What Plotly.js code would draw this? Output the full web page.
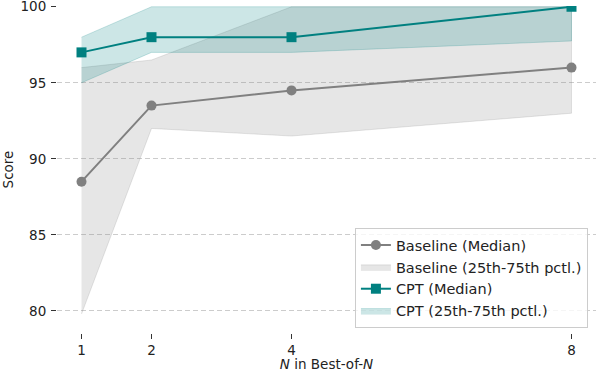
<!DOCTYPE html>
<html>
<head>
<meta charset="utf-8">
<script src="https://cdn.plot.ly/plotly-3.0.1.min.js"></script>
<style>
  html, body { margin: 0; padding: 0; background: #fff; }
  #chart { width: 596px; height: 372px; }
</style>
</head>
<body>
<div id="chart"></div>
<script>
var nValues = [1, 2, 4, 8];

var baselineMedian = [88.5, 93.5, 94.5, 96];
var baselineLow = [79.8, 92, 91.5, 93];
var baselineHigh = [96, 96.5, 100, 100];

var cptMedian = [97, 98, 98, 100];
var cptLow = [95, 97, 97, 97.75];
var cptHigh = [98, 100, 100, 100];

// closed polygon for a percentile band: upper edge then lower edge backwards
function band(xs, hi, lo) {
  return {
    x: xs.concat(xs.slice().reverse()),
    y: hi.concat(lo.slice().reverse())
  };
}

var bBand = band(nValues, baselineHigh, baselineLow);
var cBand = band(nValues, cptHigh, cptLow);

var baselineFill = {
  x: bBand.x,
  y: bBand.y,
  name: 'Baseline (25th-75th pctl.)',
  type: 'scatter',
  mode: 'lines',
  fill: 'toself',
  fillcolor: 'rgba(128,128,128,0.2)',
  line: { color: 'rgba(128,128,128,0.2)', width: 1 },
  hoverinfo: 'skip',
  legendrank: 2
};

var baselineLine = {
  x: nValues,
  y: baselineMedian,
  name: 'Baseline (Median)',
  type: 'scatter',
  mode: 'lines+markers',
  line: { color: '#808080', width: 2 },
  marker: { color: '#808080', size: 10, symbol: 'circle' },
  legendrank: 1
};

var cptFill = {
  x: cBand.x,
  y: cBand.y,
  name: 'CPT (25th-75th pctl.)',
  type: 'scatter',
  mode: 'lines',
  fill: 'toself',
  fillcolor: 'rgba(0,128,128,0.2)',
  line: { color: 'rgba(0,128,128,0.2)', width: 1 },
  hoverinfo: 'skip',
  legendrank: 4
};

var cptLine = {
  x: nValues,
  y: cptMedian,
  name: 'CPT (Median)',
  type: 'scatter',
  mode: 'lines+markers',
  line: { color: '#008080', width: 2 },
  marker: { color: '#008080', size: 10, symbol: 'square' },
  legendrank: 3
};

var data = [baselineFill, baselineLine, cptFill, cptLine];

var layout = {
  width: 596,
  height: 372,
  paper_bgcolor: '#fff',
  plot_bgcolor: '#fff',
  font: { family: 'DejaVu Sans', size: 13.5, color: '#222' },
  showlegend: true,
  margin: { l: 57, r: 0, t: 6, b: 39, pad: 0 },
  xaxis: {
    range: [0.65, 8.35],
    tickvals: nValues,
    ticktext: nValues.map(String),
    ticks: 'outside',
    ticklen: 5,
    tickcolor: '#333',
    showgrid: false,
    zeroline: false,
    showline: false,
    title: { text: '<i>N</i> in Best-of-<i>N</i>', standoff: 8, font: { size: 13.5 } }
  },
  yaxis: {
    range: [78.55, 100.05],
    tickvals: [80, 85, 90, 95, 100],
    ticks: 'outside',
    ticklen: 5,
    tickcolor: '#333',
    ticklabeloverflow: 'allow',
    ticklabelstandoff: 2,
    showgrid: true,
    gridcolor: '#cccccc',
    gridwidth: 1,
    griddash: '5px,3px',
    zeroline: false,
    showline: false,
    title: { text: 'Score', standoff: 16, font: { size: 13.5 } }
  },
  legend: {
    x: 0.985,
    y: 0.015,
    xanchor: 'right',
    yanchor: 'bottom',
    bgcolor: 'rgba(255,255,255,0.8)',
    bordercolor: '#cccccc',
    borderwidth: 1,
    font: { size: 14.5 },
    traceorder: 'normal'
  }
};

Plotly.newPlot('chart', data, layout, { displayModeBar: false });
</script>
</body>
</html>
